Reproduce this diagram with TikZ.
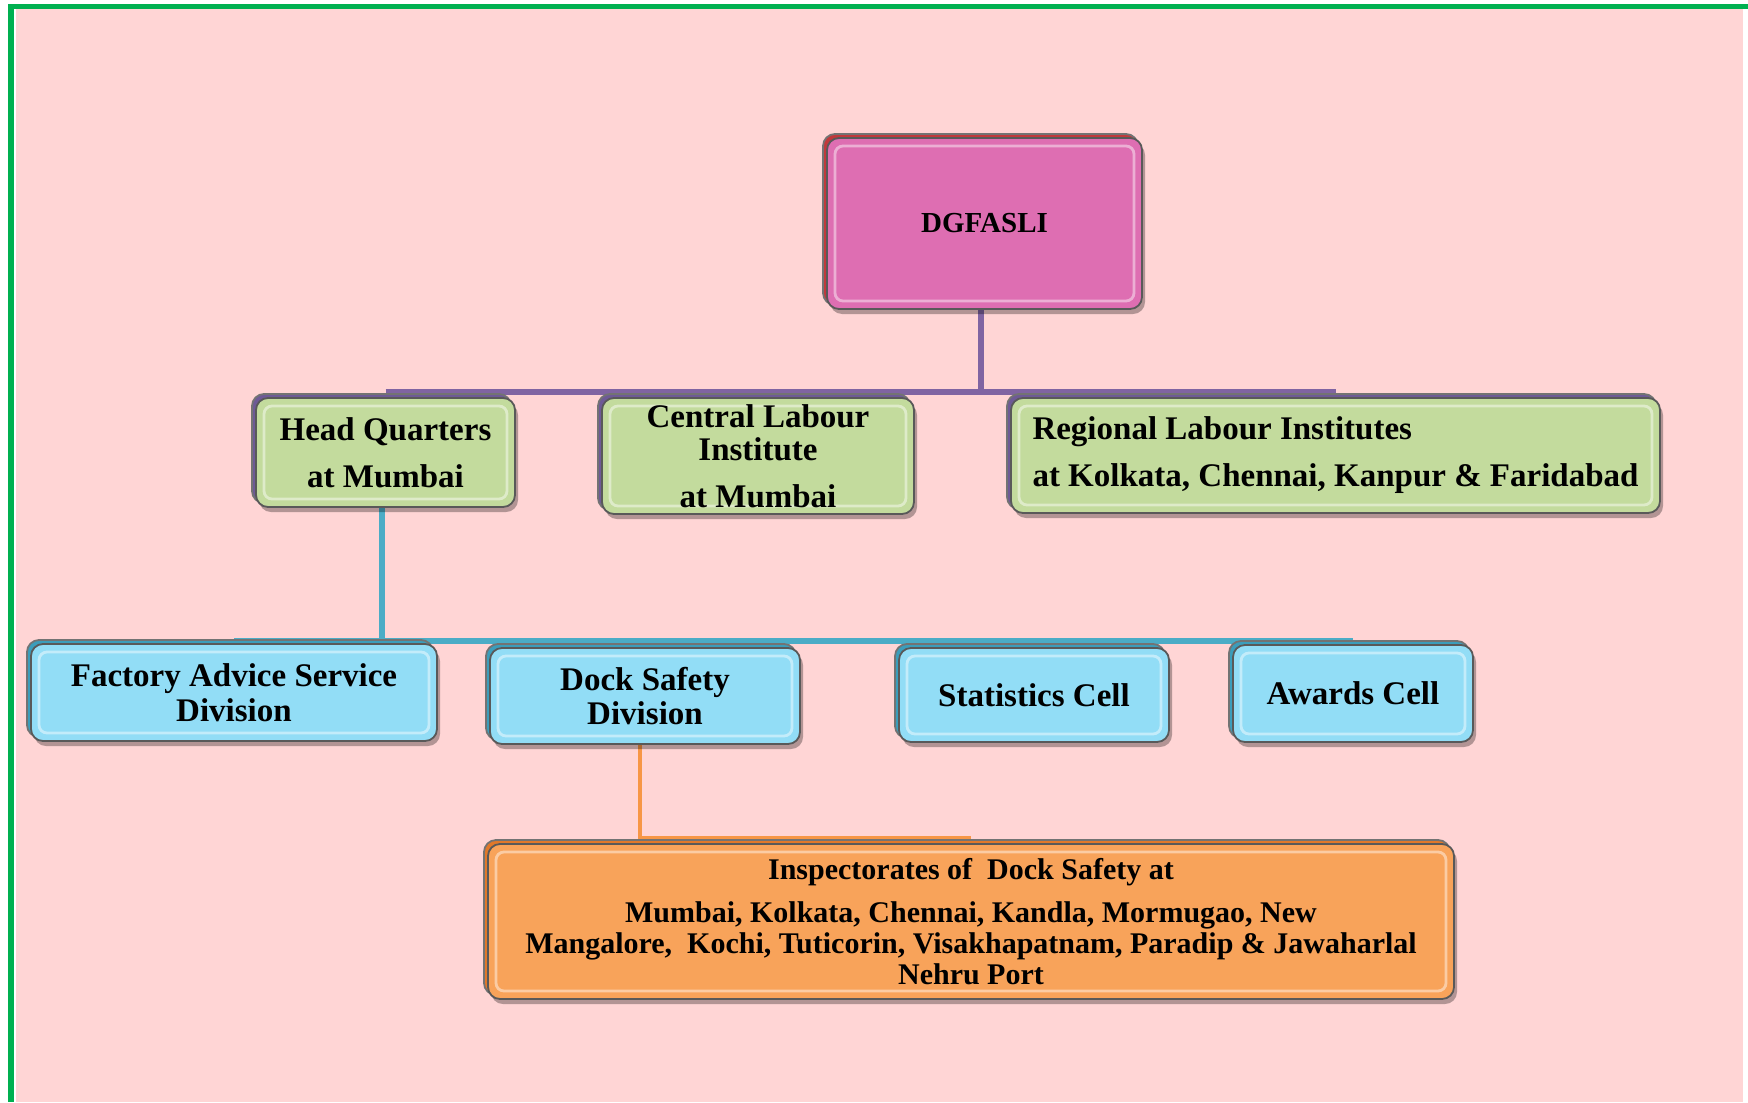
\documentclass[tikz,border=0pt]{standalone}
\usepackage{fontspec}
\setmainfont{Liberation Serif}
\usetikzlibrary{shadows,backgrounds}
\definecolor{bgpink}{RGB}{255,213,213}
\definecolor{brdgreen}{RGB}{0,176,80}
\definecolor{topfill}{RGB}{222,110,178}
\definecolor{topback}{RGB}{192,57,60}
\definecolor{grnfill}{RGB}{195,219,157}
\definecolor{grnback}{RGB}{110,90,150}
\definecolor{purp}{RGB}{128,100,162}
\definecolor{bluefill}{RGB}{146,221,246}
\definecolor{blueback}{RGB}{59,157,187}
\definecolor{blueline}{RGB}{75,172,198}
\definecolor{orfill}{RGB}{248,163,90}
\definecolor{orback}{RGB}{224,120,42}
\definecolor{orline}{RGB}{247,150,70}
\begin{document}
\begin{tikzpicture}[x=0.5pt,y=-0.5pt,
  box/.style 2 args={fill=#1, draw=black!65, line width=0.9pt, rounded corners=6pt,
    inner sep=0pt, align=center,
    drop shadow={shadow xshift=1.5pt, shadow yshift=-2.5pt, opacity=0.3, fill=black},
    copy shadow={shadow xshift=-2pt, shadow yshift=2pt, fill=#2, draw=black!55},
    path picture={\draw[white, opacity=0.45, line width=1.4pt, rounded corners=4pt]
      ([shift={(4pt,-4pt)}]path picture bounding box.north west) rectangle
      ([shift={(-4pt,4pt)}]path picture bounding box.south east);}},
  rowtwo/.style={font=\bfseries\fontsize{16.5}{23.5}\selectfont},
  rowthree/.style={font=\bfseries\fontsize{16.5}{17.3}\selectfont},
  conn/.style={line width=#1},
]
\useasboundingbox (0,0) rectangle (1748,1102);
\begin{scope}[on background layer]
  \fill[white] (0,0) rectangle (1748,1102);
  \fill[bgpink] (16,9) rectangle (1743,1102);
  \fill[brdgreen] (8,4) rectangle (14,1102);
  \fill[brdgreen] (8,4) rectangle (1748,9);
\end{scope}

\node[box={topfill}{topback}, minimum width=157.5pt, minimum height=85.5pt,
  font=\bfseries\fontsize{14.5}{17}\selectfont] (top) at (984.5,223.5) {DGFASLI};

\node[box={grnfill}{grnback}, rowtwo, minimum width=129.5pt, minimum height=54.5pt]
  (hq) at (385.5,452.5) {Head Quarters\\at Mumbai};
\node[box={grnfill}{grnback}, rowtwo, minimum width=156pt, minimum height=58pt]
  (cli) at (758,456) {Central Labour\\[-7pt]Institute\\at Mumbai};
\node[box={grnfill}{grnback}, rowtwo, minimum width=324.5pt, minimum height=57.5pt,
  align=left]
  (rli) at (1335.5,455.5) {Regional Labour Institutes\\at Kolkata, Chennai, Kanpur \& Faridabad};

\node[box={bluefill}{blueback}, rowthree, minimum width=203pt, minimum height=48.5pt]
  (fas) at (234,692.5) {Factory Advice Service\\Division};
\node[box={bluefill}{blueback}, rowthree, minimum width=155pt, minimum height=48pt]
  (dsd) at (645,696) {Dock Safety\\Division};
\node[box={bluefill}{blueback}, rowthree, minimum width=135pt, minimum height=47pt]
  (stc) at (1034,695) {Statistics Cell};
\node[box={bluefill}{blueback}, rowthree, minimum width=120pt, minimum height=48.5pt]
  (awc) at (1353,693.5) {Awards Cell};

\node[box={orfill}{orback}, minimum width=483pt, minimum height=77.5pt,
  font=\bfseries\fontsize{15}{15.5}\selectfont]
  (ins) at (971,921.5) {Inspectorates of\ \ Dock Safety at\\[6.25pt]Mumbai, Kolkata, Chennai, Kandla, Mormugao, New\\Mangalore,\ \ Kochi, Tuticorin, Visakhapatnam, Paradip \& Jawaharlal\\Nehru Port};

\coordinate (busA) at (981,392);
\coordinate (busB) at (382,641);
\coordinate (busC) at (640,838);

\begin{scope}[on background layer]
  \draw[purp, conn=3pt] (top.south -| busA) -- (busA);
  \draw[purp, conn=3pt] (hq.north |- busA) -- (rli.north |- busA);
  \draw[blueline, conn=3pt] (hq.south -| busB) -- (busB);
  \draw[blueline, conn=3pt] (fas.north |- busB) -- (awc.north |- busB);
  \draw[orline, conn=2.2pt] (dsd.south -| busC) -- (busC) -- (ins.north |- busC);
\end{scope}
\end{tikzpicture}
\end{document}
